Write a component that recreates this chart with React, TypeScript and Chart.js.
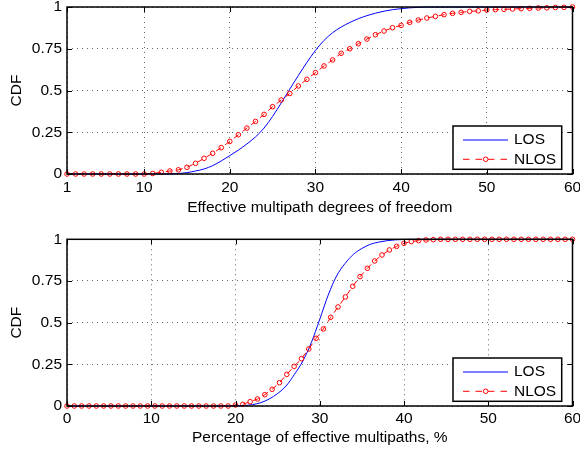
import React, { useEffect, useRef } from "react";
import { Chart, registerables } from "chart.js";

Chart.register(...registerables);

const FONT_FAMILY = '"Liberation Sans", Arial, Helvetica, sans-serif';
const FONT_SIZE = 15.5;

const seriesNames = ["LOS", "NLOS"];
const yTitle = "CDF";
const topTitle = "Effective multipath degrees of freedom";
const bottomTitle = "Percentage of effective multipaths, %";

const yTicks = [0, 0.25, 0.5, 0.75, 1];
const topXTicks = [1, 10, 20, 30, 40, 50, 60];
const bottomXTicks = [0, 10, 20, 30, 40, 50, 60];

// Top panel: effective multipath degrees of freedom
const topX = [
  1, 2, 3, 4, 5, 6, 7, 8, 9, 10, 11, 12, 13, 14, 15, 16, 17, 18, 19, 20,
  21, 22, 23, 24, 25, 26, 27, 28, 29, 30, 31, 32, 33, 34, 35, 36, 37, 38, 39, 40,
  41, 42, 43, 44, 45, 46, 47, 48, 49, 50, 51, 52, 53, 54, 55, 56, 57, 58, 59, 60,
];
const topLOS = [
  0, 0, 0, 0, 0, 0, 0, 0, 0, 0, 0, 0, 0, 0.003, 0.008, 0.018, 0.03, 0.05, 0.078, 0.11,
  0.143, 0.18, 0.222, 0.275, 0.345, 0.425, 0.508, 0.59, 0.668, 0.74, 0.8, 0.846, 0.88, 0.907, 0.93, 0.948, 0.963, 0.975, 0.984, 0.99,
  0.995, 0.998, 1, 1, 1, 1, 1, 1, 1, 1, 1, 1, 1, 1, 1, 1, 1, 1, 1, 1,
];
const topNLOS = [
  0, 0, 0, 0, 0, 0, 0, 0, 0, 0, 0.003, 0.01, 0.018, 0.025, 0.04, 0.064, 0.094, 0.124, 0.158, 0.195,
  0.235, 0.275, 0.315, 0.357, 0.403, 0.443, 0.482, 0.527, 0.567, 0.607, 0.647, 0.683, 0.723, 0.75, 0.78, 0.808, 0.834, 0.856, 0.876, 0.89,
  0.908, 0.922, 0.934, 0.944, 0.954, 0.962, 0.968, 0.974, 0.977, 0.982, 0.984, 0.986, 0.988, 0.99, 0.992, 0.994, 0.995, 0.997, 0.998, 1,
];

// Bottom panel: percentage of effective multipaths
const bottomLosX = [
  0, 1, 2, 3, 4, 5, 6, 7, 8, 9, 10, 11, 12, 13, 14, 15, 16, 17, 18, 19, 20,
  21, 22, 23, 24, 25, 26, 27, 28, 29, 30, 31, 32, 33, 34, 35, 36, 37, 38, 39, 40,
  41, 42, 43, 44, 45, 46, 47, 48, 49, 50, 51, 52, 53, 54, 55, 56, 57, 58, 59, 60,
];
const bottomLOS = [
  0, 0, 0, 0, 0, 0, 0, 0, 0, 0, 0, 0, 0, 0, 0, 0, 0, 0, 0, 0, 0,
  0.003, 0.008, 0.02, 0.042, 0.075, 0.12, 0.19, 0.27, 0.38, 0.52, 0.665, 0.78, 0.855, 0.91, 0.945, 0.97, 0.983, 0.992, 0.997, 0.999,
  1, 1, 1, 1, 1, 1, 1, 1, 1, 1, 1, 1, 1, 1, 1, 1, 1, 1, 1, 1,
];
const bottomNlosX = [
  0, 0.87, 1.74, 2.61, 3.48, 4.35, 5.22, 6.09, 6.96, 7.83, 8.7, 9.57, 10.43, 11.3, 12.17, 13.04, 13.91, 14.78, 15.65, 16.52,
  17.39, 18.26, 19.13, 20.0, 20.87, 21.74, 22.61, 23.48, 24.35, 25.22, 26.09, 26.96, 27.83, 28.7, 29.57, 30.43, 31.3, 32.17, 33.04, 33.91,
  34.78, 35.65, 36.52, 37.39, 38.26, 39.13, 40.0, 40.87, 41.74, 42.61, 43.48, 44.35, 45.22, 46.09, 46.96, 47.83, 48.7, 49.57, 50.43, 51.3,
  52.17, 53.04, 53.91, 54.78, 55.65, 56.52, 57.39, 58.26, 59.13, 60.0,
];
const bottomNLOS = [
  0, 0, 0, 0, 0, 0, 0, 0, 0, 0, 0, 0, 0, 0, 0, 0, 0, 0, 0, 0,
  0, 0, 0, 0.006, 0.01, 0.026, 0.042, 0.068, 0.1, 0.14, 0.19, 0.238, 0.284, 0.342, 0.406, 0.462, 0.532, 0.594, 0.654, 0.718,
  0.776, 0.826, 0.87, 0.906, 0.936, 0.958, 0.976, 0.986, 0.992, 0.996, 0.998, 1, 1, 1, 1, 1, 1, 1, 1, 1,
  1, 1, 1, 1, 1, 1, 1, 1, 1, 1,
];

type Panel = {
  losX: number[];
  losY: number[];
  nlosX: number[];
  nlosY: number[];
  xMin: number;
  xMax: number;
  xTicks: number[];
  xTitle: string;
  padTop: number;
  axisH: number;
  tickPad: number;
  titlePad: number;
};

const W = 580;
const H = 225;

const font = () => ({ family: FONT_FAMILY, size: FONT_SIZE });

function zip(xs: number[], ys: number[]) {
  return xs.map((x, i) => ({ x, y: ys[i] }));
}

function makeFramePlugin() {
  return {
    id: "matlabFrame",
    afterDatasetsDraw(chart: any) {
      const { ctx, chartArea: a, scales } = chart;
      const xs = scales.x;
      const ys = scales.y;
      ctx.save();
      // inward tick marks on all four sides
      ctx.strokeStyle = "#000";
      ctx.lineWidth = 1;
      ctx.beginPath();
      xs.ticks.forEach((t: any) => {
        const px = Math.round(xs.getPixelForValue(t.value)) + 0.5;
        ctx.moveTo(px, a.bottom);
        ctx.lineTo(px, a.bottom - 5);
        ctx.moveTo(px, a.top);
        ctx.lineTo(px, a.top + 5);
      });
      ys.ticks.forEach((t: any) => {
        const py = Math.round(ys.getPixelForValue(t.value)) + 0.5;
        ctx.moveTo(a.left, py);
        ctx.lineTo(a.left + 5, py);
        ctx.moveTo(a.right, py);
        ctx.lineTo(a.right - 5, py);
      });
      ctx.stroke();
      // axes box
      ctx.lineWidth = 1.5;
      ctx.strokeRect(a.left, a.top, a.right - a.left, a.bottom - a.top);

      // legend
      const bw = 108.7;
      const bh = 43.3;
      const bx = a.right - 10.8 - bw;
      const by = a.bottom - 4.7 - bh;
      ctx.fillStyle = "#fff";
      ctx.fillRect(bx, by, bw, bh);
      ctx.lineWidth = 1.5;
      ctx.strokeStyle = "#000";
      ctx.strokeRect(bx, by, bw, bh);

      const r1 = by + 14;
      const r2 = by + 33.3;
      const l0 = bx + 10;
      const l1 = bx + 55;
      ctx.lineWidth = 1;
      ctx.strokeStyle = "#0000ff";
      ctx.beginPath();
      ctx.moveTo(l0, r1);
      ctx.lineTo(l1, r1);
      ctx.stroke();

      ctx.strokeStyle = "#ff0000";
      ctx.setLineDash([6.5, 6]);
      ctx.beginPath();
      ctx.moveTo(l0, r2);
      ctx.lineTo(l1, r2);
      ctx.stroke();
      ctx.setLineDash([]);
      ctx.beginPath();
      ctx.arc(bx + 32.7, r2, 2.3, 0, Math.PI * 2);
      ctx.stroke();

      ctx.fillStyle = "#000";
      ctx.font = `${FONT_SIZE}px ${FONT_FAMILY}`;
      ctx.textAlign = "left";
      ctx.textBaseline = "middle";
      ctx.fillText(seriesNames[0], bx + 61, r1);
      ctx.fillText(seriesNames[1], bx + 61, r2);
      ctx.restore();
    },
  };
}

function buildChart(canvas: HTMLCanvasElement, p: Panel) {
  return new Chart(canvas, {
    type: "scatter",
    data: {
      datasets: [
        {
          label: seriesNames[1],
          data: zip(p.nlosX, p.nlosY),
          showLine: true,
          borderColor: "#ff0000",
          borderWidth: 1,
          borderDash: [6, 5],
          pointRadius: 2.3,
          pointBorderWidth: 1,
          pointBorderColor: "#ff0000",
          pointBackgroundColor: "rgba(255,255,255,0)",
          order: 1,
          clip: false,
        } as any,
        {
          label: seriesNames[0],
          data: zip(p.losX, p.losY),
          showLine: true,
          borderColor: "#0000ff",
          borderWidth: 1,
          pointRadius: 0,
          cubicInterpolationMode: "monotone",
          order: 2,
          clip: false,
        } as any,
      ],
    },
    options: {
      responsive: false,
      animation: false,
      events: [],
      layout: { padding: { top: p.padTop, left: 0, right: 7.5, bottom: 0 } },
      plugins: { legend: { display: false }, tooltip: { enabled: false } },
      scales: {
        x: {
          type: "linear",
          min: p.xMin,
          max: p.xMax,
          afterBuildTicks: (s: any) => {
            s.ticks = p.xTicks.map((v) => ({ value: v }));
          },
          afterFit: (s: any) => {
            s.height = p.axisH;
            s.paddingLeft = 0;
            s.paddingRight = 0;
          },
          grid: { color: "rgba(0,0,0,0.6)", lineWidth: 1, drawTicks: false },
          border: { display: false, dash: [1, 4] },
          ticks: {
            color: "#000",
            font: font(),
            padding: p.tickPad,
            maxRotation: 0,
            autoSkip: false,
            callback: (v: any) => String(v),
          },
          title: {
            display: true,
            text: p.xTitle,
            color: "#000",
            font: font(),
            padding: { top: 0, bottom: p.titlePad },
          },
        },
        y: {
          type: "linear",
          min: 0,
          max: 1,
          afterBuildTicks: (s: any) => {
            s.ticks = yTicks.map((v) => ({ value: v }));
          },
          afterFit: (s: any) => {
            s.width = 67;
            s.paddingTop = 0;
            s.paddingBottom = 0;
          },
          grid: { color: "rgba(0,0,0,0.6)", lineWidth: 1, drawTicks: false },
          border: { display: false, dash: [1, 4] },
          ticks: {
            color: "#000",
            font: font(),
            padding: 5,
            callback: (v: any) => String(v),
          },
          title: {
            display: true,
            text: yTitle,
            color: "#000",
            font: font(),
            padding: { top: 7, bottom: 0 },
          },
        },
      },
    } as any,
    plugins: [makeFramePlugin()],
  });
}

const topPanel: Panel = {
  losX: topX,
  losY: topLOS,
  nlosX: topX,
  nlosY: topNLOS,
  xMin: 1,
  xMax: 60,
  xTicks: topXTicks,
  xTitle: topTitle,
  padTop: 7,
  axisH: 51,
  tickPad: 4,
  titlePad: 8.4,
};

const bottomPanel: Panel = {
  losX: bottomLosX,
  losY: bottomLOS,
  nlosX: bottomNlosX,
  nlosY: bottomNLOS,
  xMin: 0,
  xMax: 60,
  xTicks: bottomXTicks,
  xTitle: bottomTitle,
  padTop: 14.3,
  axisH: 44,
  tickPad: 3,
  titlePad: 3,
};

function PanelCanvas({ panel, top }: { panel: Panel; top: number }) {
  const ref = useRef<HTMLCanvasElement | null>(null);
  useEffect(() => {
    if (!ref.current) return;
    const chart = buildChart(ref.current, panel);
    return () => chart.destroy();
  }, [panel]);
  return (
    <canvas
      ref={ref}
      width={W}
      height={H}
      style={{ position: "absolute", left: 0, top, width: W, height: H, display: "block" }}
    />
  );
}

export default function App() {
  return (
    <div style={{ position: "absolute", left: 0, top: 0, width: W, height: 450, background: "#fff" }}>
      <PanelCanvas panel={topPanel} top={0} />
      <PanelCanvas panel={bottomPanel} top={H} />
    </div>
  );
}
